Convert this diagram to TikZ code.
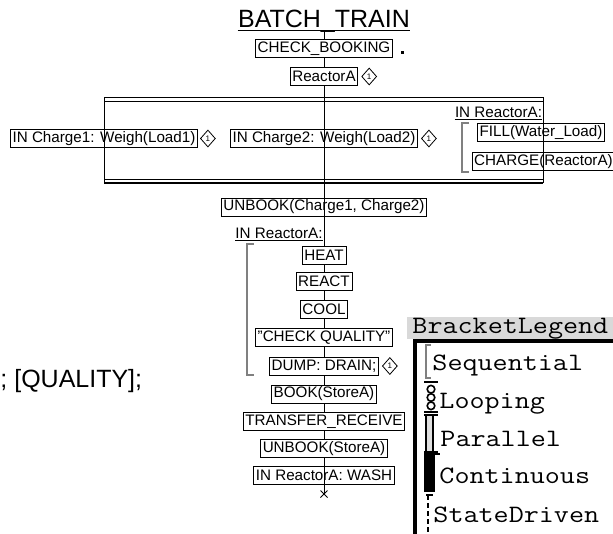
\documentclass[tikz,border=0pt]{standalone}
\usepackage{fontspec}
\setmainfont{Liberation Sans}
\usetikzlibrary{positioning,shapes.geometric}

\newcommand\legfont{\ttfamily\fontsize{25}{27}\selectfont}
\newcommand\legtxt[1]{\scalebox{1.17}[1]{#1}}

\tikzset{
  sfcbox/.style={draw, line width=0.8pt, inner xsep=2.2pt, inner ysep=0pt,
    minimum height=18pt, font=\fontsize{15.2}{17}\selectfont},
  tagmark/.style={draw, diamond, line width=0.8pt, inner sep=0pt,
    minimum width=15pt, minimum height=17pt, font=\fontsize{8}{8}\selectfont},
  seqbar/.style={draw=gray, line width=1.8pt},
  inlabel/.style={inner sep=0pt, anchor=base, font=\fontsize{15.2}{17}\selectfont},
  legitem/.style={inner sep=0pt, anchor=base west, font=\legfont},
}

\begin{document}
\begin{tikzpicture}[x=1pt, y=-1pt, line width=0.9pt]

\useasboundingbox (0,0) rectangle (613,533);

% title
\node[inner sep=0pt, anchor=base, font=\fontsize{25}{28}\selectfont] (title) at (324,27) {BATCH\_TRAIN};
\draw ([yshift=-3pt]title.base west) -- ([yshift=-3pt]title.base east);
\coordinate (tbot) at ([yshift=-3pt]title.base);

\node[sfcbox] (chk) at (324,48.5) {CHECK\_BOOKING};
\fill (400.5,50.5) rectangle (403.5,53.5);
\node[sfcbox] (reac) at (324,76.5) {ReactorA};
\node[tagmark, right=3pt of reac] (reactag) {1};

% parallel block
\coordinate (ptop) at (324,97);
\coordinate (pbot) at (324,183);
\draw (104,97) -- (543,97) (104,101) -- (543,101);
\draw (104,179) -- (543,179);
\draw[line width=1.3pt] (104,183) -- (543,183);
\foreach \x in {104,543}
    \draw (\x,97) -- (\x,183);

\node[sfcbox] (ch1) at (104,138.5) {IN Charge1: Weigh(Load1)};
\node[tagmark, right=2pt of ch1] (ch1tag) {1};
\node[sfcbox] (ch2) at (324,138.5) {IN Charge2: Weigh(Load2)};
\node[tagmark, right=3pt of ch2] (ch2tag) {1};

\node[inlabel] (inra) at (498.5,117) {IN ReactorA:};
\draw ([yshift=-2pt]inra.base west) -- ([yshift=-2pt]inra.base east);
\draw[seqbar] (469,123) -- (462,123) -- (462,172) -- (469,172);
\node[sfcbox] (fill) at (541,132.5) {FILL(Water\_Load)};
\node[sfcbox] (charge) at (543.5,161.5) {CHARGE(ReactorA)};

% after the block
\node[sfcbox] (unb) at (324,207) {UNBOOK(Charge1, Charge2)};
\node[inlabel] (inrb) at (279,238) {IN ReactorA:};
\draw ([yshift=-2pt]inrb.base west) -- ([yshift=-2pt]inrb.base east);
\draw[seqbar] (254,244) -- (247,244) -- (247,375) -- (254,375);

\node[sfcbox] (heat) at (324,255.5) {HEAT};
\node[sfcbox] (react) at (324,281.5) {REACT};
\node[sfcbox] (cool) at (324,309.5) {COOL};
\node[sfcbox] (chq) at (324,337.5) {"CHECK QUALITY"};
\node[sfcbox] (dump) at (324,366) {DUMP: DRAIN;};
\node[tagmark, right=3pt of dump] (dumptag) {1};
\node[sfcbox] (book) at (324,394) {BOOK(StoreA)};
\node[sfcbox] (xfer) at (324,421.5) {TRANSFER\_RECEIVE};
\node[sfcbox] (unb2) at (324,448.5) {UNBOOK(StoreA)};
\node[sfcbox] (wash) at (324,475.5) {IN ReactorA: WASH};
\coordinate (stop) at (324,494);
\draw (stop) +(-3.5,-3.5) -- +(3.5,3.5) +(-3.5,3.5) -- +(3.5,-3.5);

\node[inner sep=0pt, anchor=base west, font=\fontsize{25}{28}\selectfont] (qual) at (0,387) {; [QUALITY];};

% main line
\draw (tbot) -- (chk) -- (reac) -- (ptop);
\draw (ptop) -- (pbot);
\draw (pbot) -- (unb.south);
\draw (unb) -- (heat) -- (react) -- (cool) -- (chq) -- (dump) -- (book) -- (xfer) -- (unb2) -- (wash);
\draw (wash.north) -- (stop);

% legend
\fill[gray!30] (407,317) rectangle (613,339);
\node[legitem] (leghead) at (412,333) {\legtxt{BracketLegend}};
\draw[line width=4pt] (415,341) rectangle (640,560);

\node[legitem] (lseq) at (432,370) {\legtxt{Sequential}};
\node[legitem] (lloop) at (439,408) {\legtxt{Looping}};
\node[legitem] (lpar) at (440,446) {\legtxt{Parallel}};
\node[legitem] (lcont) at (439,483) {\legtxt{Continuous}};
\node[legitem] (lstate) at (433,522) {\legtxt{StateDriven}};

\draw[seqbar] (431,345) -- (426,345) -- (426,378) -- (431,378);
\draw[line width=1.8pt] (424,382) -- (438,382) (424,412) -- (438,412);
\foreach \y in {389.2,397.5,405.8}
    \draw[line width=1.6pt] (431,\y) circle[radius=3.8pt];
\fill[gray!25] (426,415) rectangle (433,452);
\draw[line width=1.3pt] (426,415) -- (426,452) (433,415) -- (433,452);
\draw[line width=1.8pt] (424,415) -- (438,415) (424,452) -- (438,452);
\fill (424,453) rectangle (435,492);
\draw[line width=1.8pt] (424,454) -- (440,454);
\draw[line width=1.4pt, dash pattern=on 5pt off 3pt] (428,495) -- (428,533);
\draw[line width=1.6pt] (426,495) -- (433,495);

\end{tikzpicture}
\end{document}
